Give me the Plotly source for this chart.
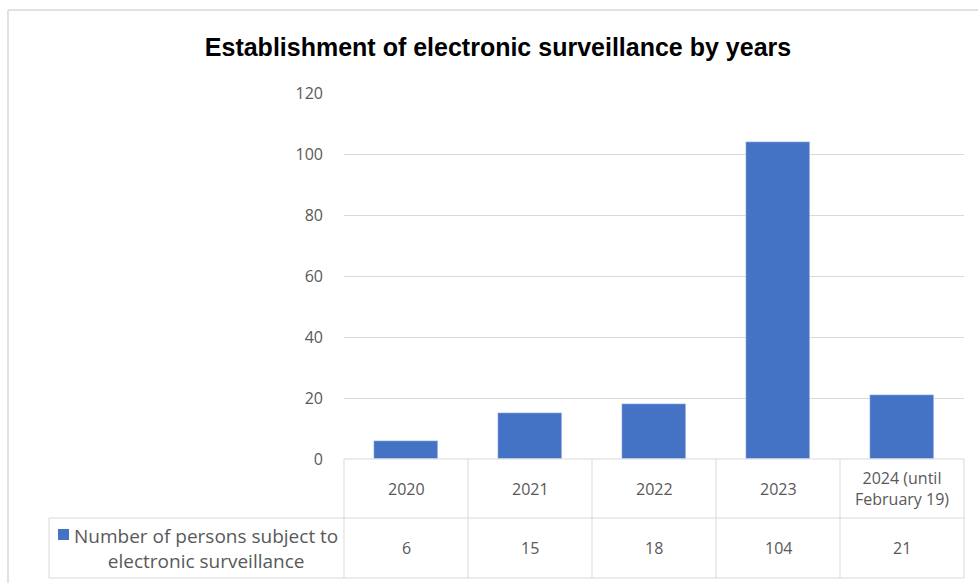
import plotly.graph_objects as go

categories = ["2020", "2021", "2022", "2023", "2024 (until<br>February 19)"]
values = [6, 15, 18, 104, 21]
series_name = "Number of persons subject to<br>electronic surveillance"
y_ticks = [0, 20, 40, 60, 80, 100, 120]
title_text = "Establishment of electronic surveillance by years"

W, H = 978, 583
BAR = "#4472C4"
GRID = "#D9D9D9"
TXT = "#595959"

def px(x):
    return x / W

def py(y):
    return 1 - y / H

# plot area in pixels
L, R, T, B = 344, 964, 93, 459
ROW1, ROW2 = 518, 578
LEG_L = 49

fig = go.Figure()
fig.add_trace(go.Bar(x=categories, y=values, marker_color=BAR, width=0.52,
                     name=series_name, showlegend=False))

shapes = []
line = dict(color=GRID, width=1)
shapes.append(dict(type="line", xref="paper", yref="paper", x0=px(8), x1=1.01, y0=py(10), y1=py(10),
                   line=dict(color="#D9D9D9", width=1.5)))
shapes.append(dict(type="line", xref="paper", yref="paper", x0=px(8), x1=px(8), y0=py(10), y1=-0.01,
                   line=dict(color="#D9D9D9", width=1.5)))
for yy in [B, ROW1, ROW2]:
    x0 = L if yy == B else LEG_L
    shapes.append(dict(type="line", xref="paper", yref="paper", x0=px(x0), x1=px(R), y0=py(yy), y1=py(yy), line=line))
n = len(categories)
for i in range(n + 1):
    xx = L + (R - L) * i / n
    shapes.append(dict(type="line", xref="paper", yref="paper", x0=px(xx), x1=px(xx), y0=py(B), y1=py(ROW2), line=line))
shapes.append(dict(type="line", xref="paper", yref="paper", x0=px(LEG_L), x1=px(LEG_L), y0=py(ROW1), y1=py(ROW2), line=line))
shapes.append(dict(type="rect", xref="paper", yref="paper", x0=px(58), x1=px(69), y0=py(540), y1=py(529),
                   fillcolor=BAR, line=dict(width=0)))

annotations = []
FAM = "Open Sans, Noto Sans, sans-serif"
font = dict(family=FAM, size=16, color=TXT)
for i, (c, v) in enumerate(zip(categories, values)):
    # category axes position annotations by category index
    annotations.append(dict(x=i, xref="x", y=py((B + ROW1) / 2), yref="paper", text=c, showarrow=False,
                            font=font, yanchor="middle", align="center"))
    annotations.append(dict(x=i, xref="x", y=py((ROW1 + ROW2) / 2), yref="paper", text=str(v), showarrow=False,
                            font=font, yanchor="middle"))
annotations.append(dict(x=px(206), xref="paper", y=py(548), yref="paper", text=series_name, showarrow=False,
                        font=dict(family=FAM, size=19, color=TXT), yanchor="middle", align="center",
                        xanchor="center"))

fig.update_layout(
    width=W, height=H,
    margin=dict(l=0, r=0, t=0, b=0, autoexpand=False),
    paper_bgcolor="white", plot_bgcolor="white",
    title=dict(text="<b>" + title_text + "</b>", x=px(498), xanchor="center", y=py(47), yanchor="middle",
               font=dict(family="Liberation Sans, Arial, sans-serif", size=25, color="#000000")),
    xaxis=dict(type="category", domain=[px(L), px(R)], range=[-0.5, len(categories) - 0.5],
               showticklabels=False, showgrid=False, zeroline=False,
               showline=False, ticks="", automargin=False),
    yaxis=dict(domain=[py(B), py(T)], range=[0, 120], tickvals=y_ticks, showgrid=True, gridcolor=GRID,
               gridwidth=1, zeroline=False, showline=False, ticks="", ticklabelstandoff=20, automargin=False,
               tickfont=dict(family=FAM, size=16, color=TXT)),
    shapes=shapes,
    annotations=annotations,
    bargap=0,
)

fig.write_html("out.html", post_script="document.body.style.margin='0';",
               config={"displayModeBar": False})
